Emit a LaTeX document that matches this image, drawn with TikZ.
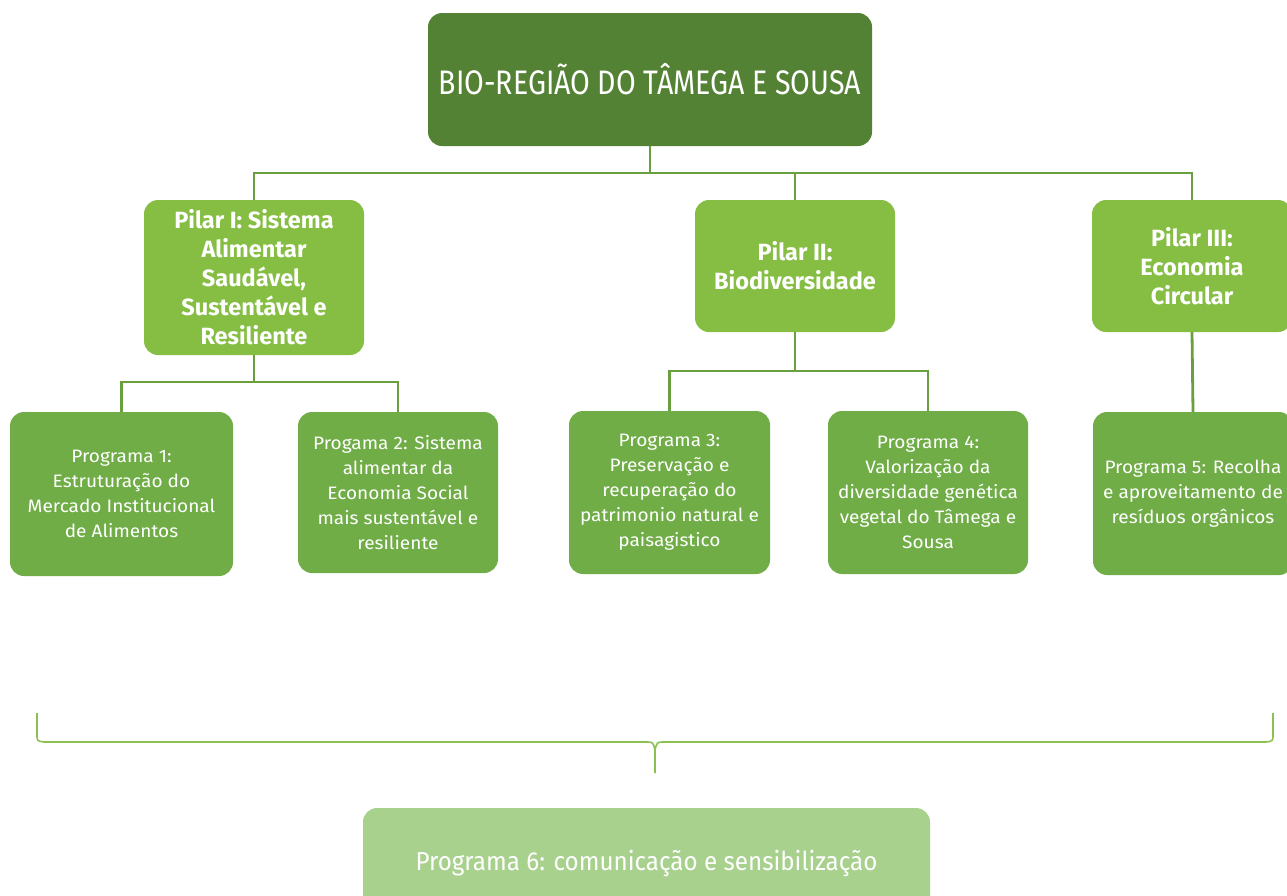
\documentclass[tikz,border=0pt]{standalone}
\usepackage{fontspec}
\setmainfont{Fira Sans}
\newfontfamily\titlefont[FakeStretch=0.84]{Fira Sans}
\newfontfamily\pillarfont[FakeStretch=1.0]{Fira Sans}
\newfontfamily\progfont[FakeStretch=1.06]{Fira Sans}
\newfontfamily\commfont[FakeStretch=0.93]{Fira Sans}
\definecolor{topgreen}{RGB}{84,130,53}
\definecolor{pillargreen}{RGB}{133,190,67}
\definecolor{proggreen}{RGB}{112,173,71}
\definecolor{commgreen}{RGB}{169,209,142}
\definecolor{linegreen}{RGB}{106,159,64}
\definecolor{bracegreen}{RGB}{140,193,82}
\tikzset{
  box/.style={rectangle, rounded corners=14pt, inner sep=0pt, text=white, align=center},
  topbox/.style={box, fill=topgreen, font=\titlefont\fontsize{34}{40}\selectfont},
  pillarbox/.style={box, fill=pillargreen, font=\pillarfont\bfseries\fontsize{23.5}{29}\selectfont},
  progbox/.style={box, fill=proggreen, font=\progfont\fontsize{18}{25}\selectfont},
  commbox/.style={box, fill=commgreen, font=\commfont\fontsize{26}{30}\selectfont},
  link/.style={draw=linegreen, line width=2.8pt},
  bracket/.style={draw=bracegreen, line width=1.6pt}
}
\begin{document}
\begin{tikzpicture}[x=1pt,y=-1pt]
\useasboundingbox (0,0) rectangle (1287,895);
\clip (0,0) rectangle (1287,895);

% title
\node[topbox, minimum width=444pt, minimum height=133pt] (top) at (650,79.5) {BIO-REGIÃO DO TÂMEGA E SOUSA};

% pillars
\node[pillarbox, minimum width=220pt, minimum height=155pt] (pA) at (254,277.5)
  {Pilar I: Sistema\\Alimentar\\Saudável,\\Sustentável e\\Resiliente};
\node[pillarbox, minimum width=200pt, minimum height=132pt] (pB) at (795,266)
  {Pilar II:\\Biodiversidade};
\node[pillarbox, minimum width=200pt, minimum height=132pt] (pC) at (1192,266)
  {Pilar III:\\Economia\\Circular};

% programmes
\node[progbox, minimum width=223pt, minimum height=164pt] (g1) at (121.5,494)
  {Programa 1:\\Estruturação do\\Mercado Institucional\\de Alimentos};
\node[progbox, minimum width=200pt, minimum height=161pt] (g2) at (398,492.5)
  {Progama 2: Sistema\\alimentar da\\Economia Social\\mais sustentável e\\resiliente};
\node[progbox, minimum width=201pt, minimum height=163pt] (g3) at (669.5,492.5)
  {Programa 3:\\Preservação e\\recuperação do\\patrimonio natural e\\paisagistico};
\node[progbox, minimum width=200pt, minimum height=163pt] (g4) at (928,492.5)
  {Programa 4:\\Valorização da\\diversidade genética\\vegetal do Tâmega e\\Sousa};
\node[progbox, minimum width=200pt, minimum height=163pt] (g5) at (1193,493.5)
  {Programa 5: Recolha\\e aproveitamento de\\resíduos orgânicos};

% communication programme
\node[commbox, minimum width=567pt, minimum height=110pt] (g6) at (646.5,863)
  {Programa 6: comunicação e sensibilização};

% connectors: title to pillars
\coordinate (busTop) at (top.south |- 0,173);
\draw[link] (top.south) -- (busTop);
\draw[link] (pA.north) |- (busTop);
\draw[link] (pB.north) |- (busTop);
\draw[link] (pC.north) |- (busTop);

% connectors: pillars to programmes
\coordinate (busA) at (pA.south |- 0,382);
\draw[link] (pA.south) -- (busA);
\draw[link] (g1.north) |- (busA) -| (g2.north);
\coordinate (busB) at (pB.south |- 0,371);
\draw[link] (pB.south) -- (busB);
\draw[link] (g3.north) |- (busB) -| (g4.north);
\draw[link] (pC.south) -- (g5.north);

% brace over all programmes
\coordinate (braceL) at (37,713);
\coordinate (braceR) at (1273,713);
\coordinate (braceTip) at (655,773);
\draw[bracket] (braceL) -- (37,734) .. controls (37,741) .. (44,742) -- (646,742)
  .. controls (653,742) .. (655,750) -- (braceTip);
\draw[bracket] (braceR) -- (1273,734) .. controls (1273,741) .. (1266,742) -- (664,742)
  .. controls (657,742) .. (655,750);
\end{tikzpicture}
\end{document}
